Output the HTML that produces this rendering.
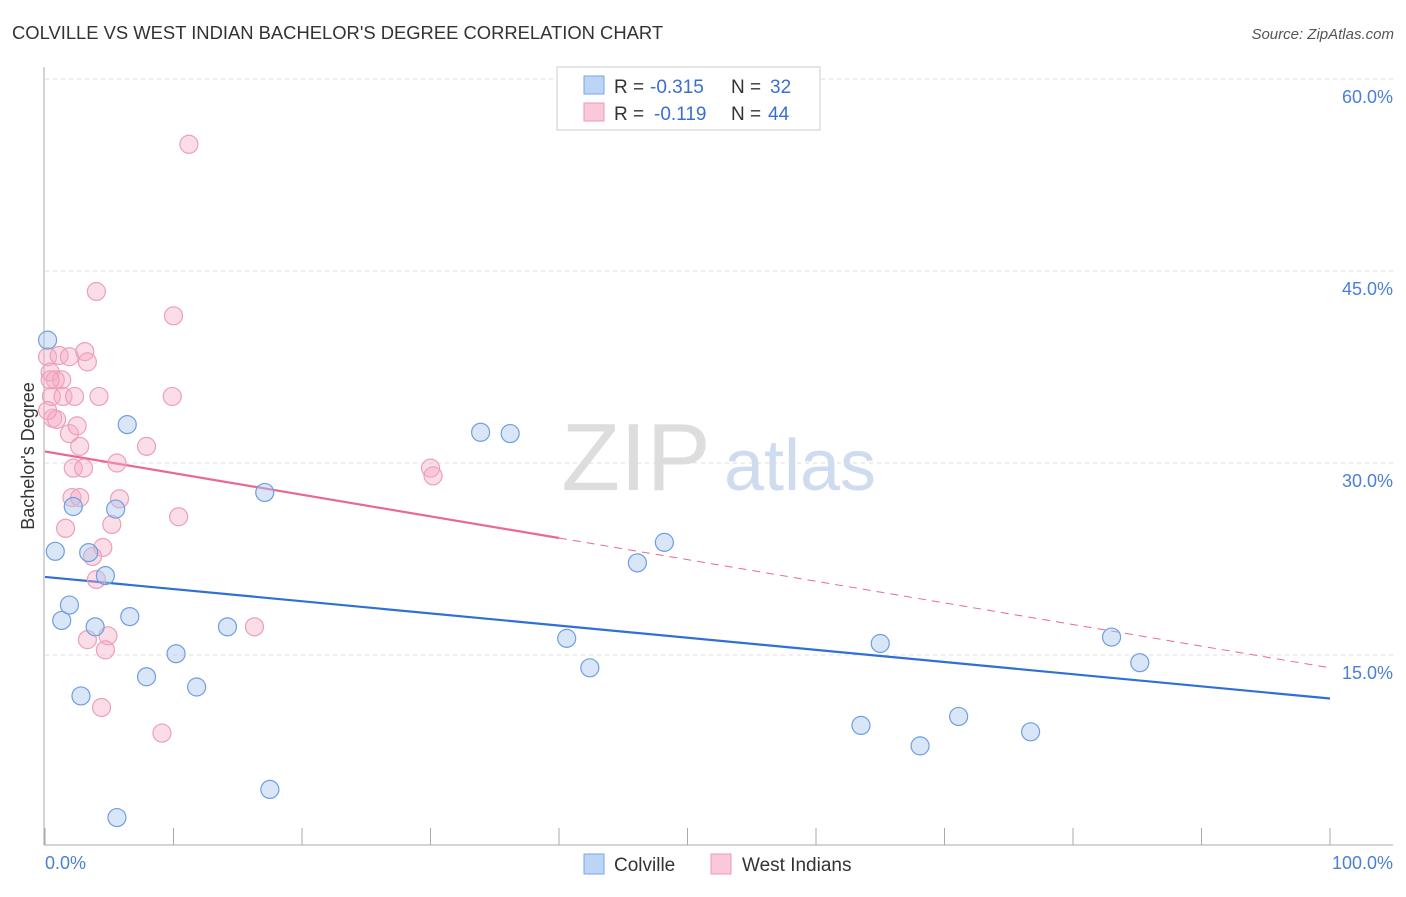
<!DOCTYPE html>
<html><head><meta charset="utf-8"><style>
body{margin:0;background:#fff;font-family:"Liberation Sans",sans-serif}
svg text{font-family:"Liberation Sans",sans-serif}
</style></head><body>
<svg id="c" width="1406" height="892">
<text x="12" y="39" font-size="18.4" fill="#333">COLVILLE VS WEST INDIAN BACHELOR'S DEGREE CORRELATION CHART</text>
<text x="1394" y="39" font-size="15" fill="#555" font-style="italic" text-anchor="end">Source: ZipAtlas.com</text>
<text x="636" y="490" font-size="96" fill="#ddd" font-family="Liberation Serif" text-anchor="middle">ZIP</text>
<text x="800" y="490" font-size="72" fill="#cfdcf0" text-anchor="middle">atlas</text>
<g id="grid"></g><g id="axes"></g><g id="trends"></g><g id="pts"></g>
<text transform="translate(34,456) rotate(-90)" font-size="18" fill="#333" text-anchor="middle">Bachelor's Degree</text>
<text x="45" y="869" font-size="18" fill="#4a7fd4">0.0%</text>
<text x="1393" y="869" font-size="18" fill="#4a7fd4" text-anchor="end">100.0%</text>
<g>
<rect x="557" y="67" width="263" height="63" fill="#fff" stroke="#ccc"/>
<rect x="584" y="76" width="20" height="18" fill="#bcd4f5" stroke="#7aa5e6"/>
<rect x="584" y="103" width="20" height="18" fill="#fac8d7" stroke="#ef9ab5"/>
<text x="614" y="93" font-size="19" fill="#333">R =</text>
<text x="650" y="93" font-size="19" fill="#3a6fd0">-0.315</text>
<text x="731" y="93" font-size="19" fill="#333">N =</text>
<text x="770" y="93" font-size="19" fill="#3a6fd0">32</text>
<text x="614" y="120" font-size="19" fill="#333">R =</text>
<text x="654" y="120" font-size="19" fill="#3a6fd0">-0.119</text>
<text x="731" y="120" font-size="19" fill="#333">N =</text>
<text x="768" y="120" font-size="19" fill="#3a6fd0">44</text>
</g>
<g>
<rect x="584" y="854" width="20" height="20" fill="#bcd4f5" stroke="#7aa5e6"/>
<text x="614" y="871" font-size="19" fill="#333">Colville</text>
<rect x="711" y="854" width="20" height="20" fill="#fac8d7" stroke="#ef9ab5"/>
<text x="742" y="871" font-size="19" fill="#333">West Indians</text>
</g>
</svg>
<script>
const yTicks=[15,30,45,60];
const xTicks=[0,10,20,30,40,50,60,70,80,90,100];
const blueX=[0.2,0.8,2.2,1.3,1.9,2.8,3.4,3.9,4.7,5.5,5.6,6.4,6.6,7.9,10.2,11.8,14.2,17.1,17.5,33.9,36.2,40.6,42.4,46.1,48.2,63.5,65.0,68.1,71.1,76.7,83.0,85.2];
const blueY=[39.6,23.1,26.6,17.7,18.9,11.8,23.0,17.2,21.2,26.4,2.3,33.0,18.0,13.3,15.1,12.5,17.2,27.7,4.5,32.4,32.3,16.3,14.0,22.2,23.8,9.5,15.9,7.9,10.2,9.0,16.4,14.4];
const pinkX=[11.2,4.0,10.0,0.2,1.1,1.9,3.1,3.3,0.4,0.8,1.3,0.5,1.4,2.3,4.2,9.9,0.6,0.9,1.9,2.5,2.7,7.9,2.2,3.0,5.6,30.0,30.2,2.1,2.7,5.8,10.4,1.6,5.2,4.5,3.7,4.0,16.3,3.3,4.9,4.7,4.4,9.1,0.4,0.2];
const pinkY=[54.9,43.4,41.5,38.3,38.4,38.3,38.7,37.9,37.1,36.5,36.5,35.2,35.2,35.2,35.2,35.2,33.5,33.4,32.3,32.9,31.3,31.3,29.6,29.6,30.0,29.6,29.0,27.3,27.3,27.2,25.8,24.9,25.2,23.4,22.7,20.9,17.2,16.2,16.5,15.4,10.9,8.9,36.5,34.1];
const blueTrend=[21.1,11.6];
const pinkTrend=[30.9,14.0];
const pinkSolidEnd=40;
const NS='http://www.w3.org/2000/svg';
const X=v=>45+v*12.85, Y=v=>847-v*12.8;
function mk(p,t,a){const e=document.createElementNS(NS,t);for(const k in a)e.setAttribute(k,a[k]);document.getElementById(p).appendChild(e);return e;}
yTicks.forEach(t=>{
 const l=mk('grid','line',{x1:45,x2:1393,y1:Y(t),y2:Y(t),stroke:'#ddd','stroke-dasharray':'4,4'});
 
 
 const tx=mk('grid','text',{x:1393,y:Y(t)+24,'font-size':18,fill:'#4a7fd4','text-anchor':'end'});tx.textContent=t.toFixed(1)+'%';
 
 
});
const ya=mk('axes','line',{x1:44,x2:44,y1:67,y2:845,stroke:'#aaa'});


const xa=mk('axes','line',{x1:44,x2:1393,y1:845,y2:845,stroke:'#aaa'});


xTicks.forEach(t=>{const l=mk('axes','line',{x1:X(t),x2:X(t),y1:828,y2:845,stroke:'#aaa'});
 
 });
const ty=(tr,x)=>tr[0]+(tr[1]-tr[0])*x/100;
const bt=mk('trends','line',{x1:X(0),y1:Y(blueTrend[0]),x2:X(100),y2:Y(blueTrend[1]),stroke:'#2f6fd6','stroke-width':2.2});


const pt=mk('trends','line',{x1:X(0),y1:Y(pinkTrend[0]),x2:X(pinkSolidEnd),y2:Y(ty(pinkTrend,pinkSolidEnd)),stroke:'#e86a93','stroke-width':2.2});


const pd=mk('trends','line',{x1:X(pinkSolidEnd),y1:Y(ty(pinkTrend,pinkSolidEnd)),x2:X(100),y2:Y(pinkTrend[1]),stroke:'#e86a93','stroke-width':1,'stroke-dasharray':'8,6'});


pinkX.forEach((x,i)=>{const c=mk('pts','circle',{cx:X(x),cy:Y(pinkY[i]),r:9,fill:'rgba(246,170,194,0.4)',stroke:'#eca0b8','stroke-width':1.2});
 
 });
blueX.forEach((x,i)=>{const c=mk('pts','circle',{cx:X(x),cy:Y(blueY[i]),r:9,fill:'rgba(170,200,240,0.45)',stroke:'#6f9ee0','stroke-width':1.2});
 
 });
</script>
</body></html>
